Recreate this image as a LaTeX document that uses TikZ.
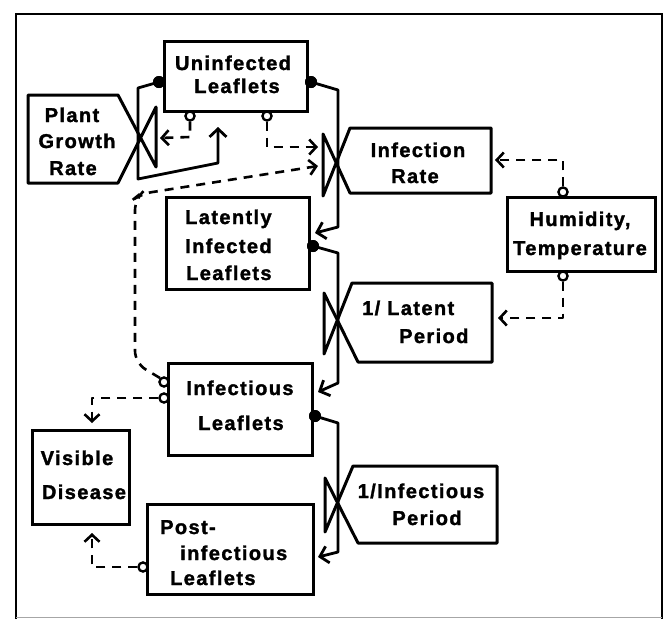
\documentclass[tikz,border=0pt]{standalone}
\usepackage{fontspec}
\setmainfont{Liberation Sans}[LetterSpace=7, BoldFeatures={FakeBold=1.6}]
\usetikzlibrary{arrows.meta}
\begin{document}
\begin{tikzpicture}[x=1pt,y=-1pt,
  box/.style={draw, line width=3pt, inner sep=0pt},
  ratebox/.style={draw, line width=3pt, line join=round},
  lbl/.style={font=\fontsize{20}{24}\selectfont\bfseries, inner sep=0pt, anchor=base},
  lblw/.style={lbl, anchor=base west},
  flow/.style={line width=2.8pt, line join=round, -{Straight Barb[length=8pt,width=17pt]}},
  info/.style={line width=2.6pt, line join=round, dash pattern=on 9pt off 7pt, -{Straight Barb[length=7pt,width=15pt]}},
  dotn/.style={circle, fill, inner sep=0pt, minimum size=12pt},
  ocn/.style={circle, draw, fill=white, line width=2.2pt, inner sep=0pt, minimum size=9pt},
  frame/.style={line width=2.8pt}]
\useasboundingbox (0,0) rectangle (672,619);
% frame
\draw[frame] (16,619) -- (16,14) -- (662,14) -- (662,619);
\draw[line width=0.6pt, black!35] (16,617) -- (662,617);

% stocks
\node[box, minimum width=143pt, minimum height=70pt] (U) at (235.5,76) {};
\node[box, minimum width=143pt, minimum height=92pt] (L) at (237.5,243) {};
\node[box, minimum width=144pt, minimum height=92pt] (I) at (240,409) {};
\node[box, minimum width=166pt, minimum height=90pt] (P) at (230,549) {};
\node[box, minimum width=97pt, minimum height=94pt] (V) at (80.5,477) {};
\node[box, minimum width=148pt, minimum height=74pt] (H) at (581,234) {};

% rate symbols with their label boxes
\draw[ratebox] (118,95) -- (28,95) -- (28,183) -- (118,183) -- (156,107) -- (156,167) -- cycle;
\draw[ratebox] (350,128) -- (491,128) -- (491,193) -- (350,193) -- (323,134) -- (323,196) -- cycle;
\draw[ratebox] (352,283) -- (492,283) -- (492,362) -- (358,362) -- (324,293) -- (324,354) -- cycle;
\draw[ratebox] (353,466) -- (497,466) -- (497,543) -- (358,543) -- (325,478) -- (325,532) -- cycle;

% labels
\node[lbl] (tU1) at (233,70) {Uninfected};
\node[lbl] (tU2) at (237,93) {Leaflets};
\node[lbl] (tG1) at (72,122) {Plant};
\node[lbl] (tG2) at (77,148) {Growth};
\node[lbl] (tG3) at (73,175) {Rate};
\node[lbl] (tR1) at (418,157) {Infection};
\node[lbl] (tR2) at (415,183) {Rate};
\node[lblw] (tL1) at (185,224) {Latently};
\node[lblw] (tL2) at (185,253) {Infected};
\node[lblw] (tL3) at (186,280) {Leaflets};
\node[lblw] (tLP1) at (362,315) {1/ Latent};
\node[lblw] (tLP2) at (399,343) {Period};
\node[lbl] (tH1) at (580,226) {Humidity,};
\node[lbl] (tH2) at (580,255) {Temperature};
\node[lbl] (tI1) at (240,395) {Infectious};
\node[lbl] (tI2) at (241,430) {Leaflets};
\node[lbl] (tIP1) at (421,498) {1/Infectious};
\node[lbl] (tIP2) at (427,525) {Period};
\node[lbl] (tV1) at (77,465) {Visible};
\node[lbl] (tV2) at (84,499) {Disease};
\node[lblw] (tP1) at (160,534) {Post-};
\node[lblw] (tP2) at (180,560) {infectious};
\node[lblw] (tP3) at (170,585) {Leaflets};

% flow end points and dots
\node[dotn] (d1) at (159,82) {};
\node[dotn] (d2) at (311,82) {};
\node[dotn] (d3) at (313,246) {};
\node[dotn] (d4) at (315,416) {};
\coordinate (eU) at (218,127);
\coordinate (eL) at (315,233);
\coordinate (eI) at (318,392);
\coordinate (eP) at (318,557);

% flows (material)
\draw[flow] (d1.center) -- (138,88) -- (138,179) -- (218,163) -- (eU);
\draw[flow] (d2.center) -- (338,90) -- (338,227) -- (eL);
\draw[flow] (d3.center) -- (338,253) -- (338,383) -- (eI);
\draw[flow] (d4.center) -- (338,423) -- (338,552) -- (eP);
\node[dotn] at (d1) {};
\node[dotn] at (d2) {};
\node[dotn] at (d3) {};
\node[dotn] at (d4) {};

% information links
\coordinate (aG) at (160,138);
\coordinate (aR1) at (318,147);
\coordinate (aR2) at (318,166);
\coordinate (aV1) at (92,423);
\coordinate (aV2) at (92,533);
\coordinate (aR3) at (495,160);
\coordinate (aLP) at (498,318);
\node[ocn] (o1) at (190,116) {};
\node[ocn] (o2) at (267,116) {};
\node[ocn] (o3) at (164,382) {};
\node[ocn] (o4) at (164,398) {};
\node[ocn] (o5) at (143,567) {};
\node[ocn] (o6) at (563,192) {};
\node[ocn] (o7) at (563,276) {};
\draw[info] (o1.south) -- (190,137) -- (aG);
\draw[info] (o2.south) -- (267,147) -- (aR1);
\draw[info, rounded corners=12pt] (o3.north west) -- (135,363) -- (135,198) -- (140,194) -- (aR2);
\draw[info] (o4.west) -- (92,398) -- (aV1);
\draw[info] (o5.west) -- (92,567) -- (aV2);
\draw[info] (o6.north) -- (563,160) -- (aR3);
\draw[info] (o7.south) -- (563,318) -- (aLP);
\node[ocn] at (o1) {};
\node[ocn] at (o2) {};
\node[ocn] at (o3) {};
\node[ocn] at (o4) {};
\node[ocn] at (o5) {};
\node[ocn] at (o6) {};
\node[ocn] at (o7) {};
\end{tikzpicture}
\end{document}
